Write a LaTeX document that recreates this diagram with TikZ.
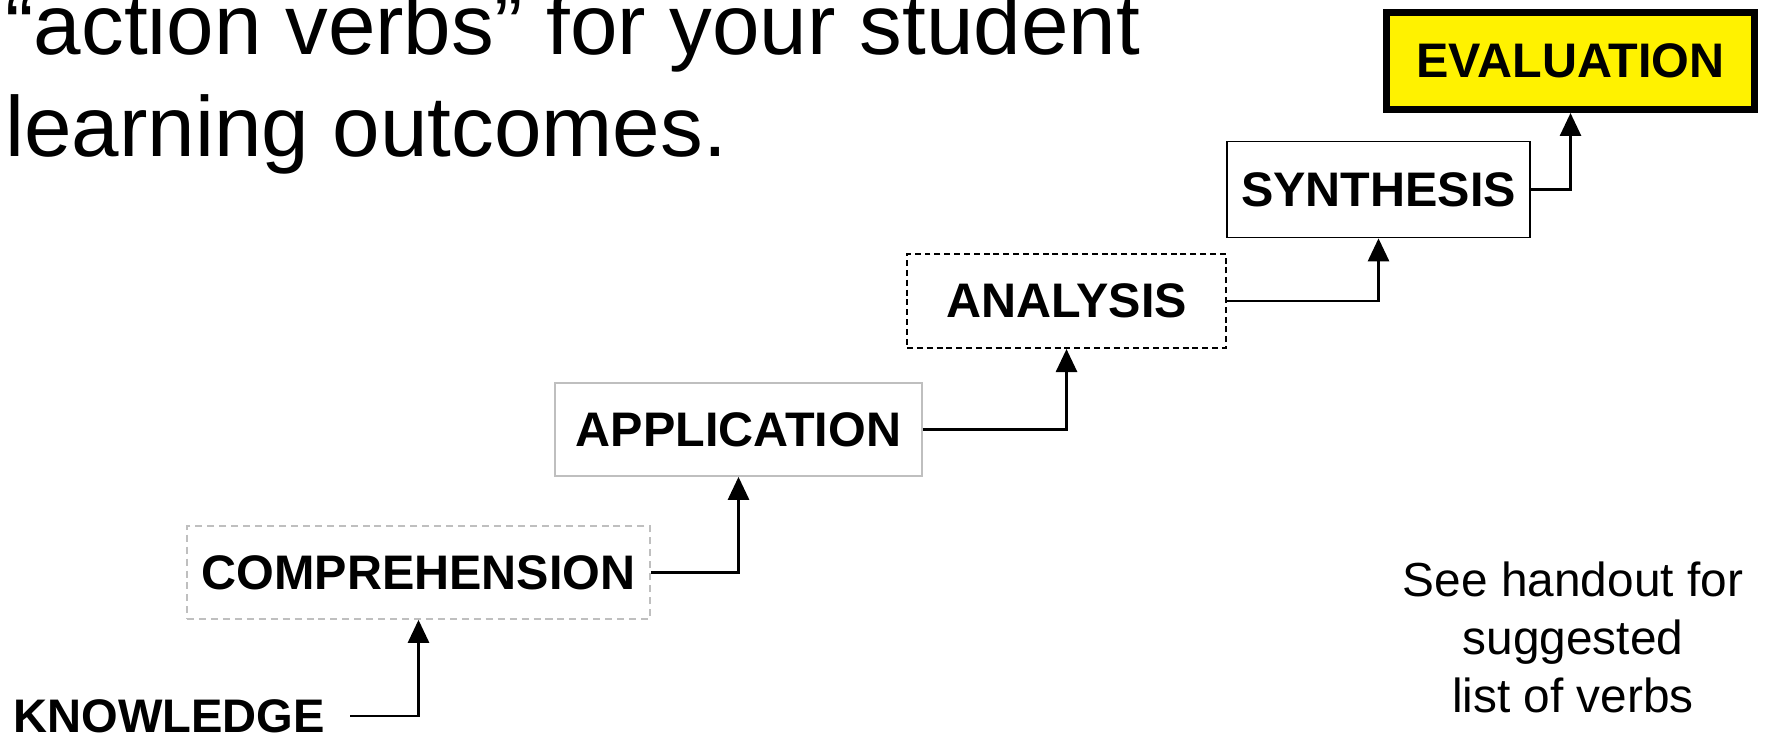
\documentclass[tikz,border=0pt]{standalone}
\usepackage{fontspec}
\setmainfont{Liberation Sans}
\usetikzlibrary{arrows.meta}

\begin{document}
\begin{tikzpicture}[line width=0.8pt,>={Triangle[length=2.3mm,width=2.1mm]},
  level/.style={font=\bfseries\fontsize{13.8pt}{16pt}\selectfont,inner sep=0pt,minimum height=0.93cm},
  softline/.style={draw=black!25,line width=0.5pt}]
  \useasboundingbox (0,0) rectangle (17.67,7.37);
  % titulo
  \node[anchor=base west,inner sep=0pt,font=\fontsize{24.3pt}{28pt}\selectfont] (title1) at (0.04,6.82){“action verbs” for your student};
  \node[anchor=base west,inner sep=0pt,font=\fontsize{24.3pt}{28pt}\selectfont] (title2) at (0.04,5.80){learning outcomes.};
  % escalera de niveles
  \node[level,anchor=west,font=\bfseries\fontsize{13.4pt}{16pt}\selectfont] (know) at (0.12,0.21){KNOWLEDGE};
  \node[level,softline,dash pattern=on 2pt off 1.4pt,minimum width=4.63cm] (comp) at (4.185,1.645){COMPREHENSION};
  \node[level,softline,minimum width=3.67cm] (appl) at (7.385,3.075){APPLICATION};
  \node[level,draw,line width=0.6pt,dash pattern=on 1.7pt off 1.1pt,minimum width=3.19cm,minimum height=0.94cm] (anal) at (10.665,4.36){ANALYSIS};
  \node[level,draw,line width=0.5pt,minimum width=3.03cm,minimum height=0.96cm] (synth) at (13.785,5.475){SYNTHESIS};
  \node[level,draw,fill=yellow,line width=2pt,minimum width=3.68cm,minimum height=0.97cm] (eval) at (15.705,6.76){EVALUATION};
  % flechas
  \draw[->,shorten <=0.24cm] (know.east) -| (comp.south);
  \foreach \a/\b in {comp/appl,appl/anal,anal/synth,synth/eval} \draw[->] (\a.east) -| (\b.south);
  \node[align=center,font=\fontsize{13.6pt}{16.5pt}\selectfont] (hint) at (15.73,0.995){See handout for\\suggested\\list of verbs};
\end{tikzpicture}
\end{document}
